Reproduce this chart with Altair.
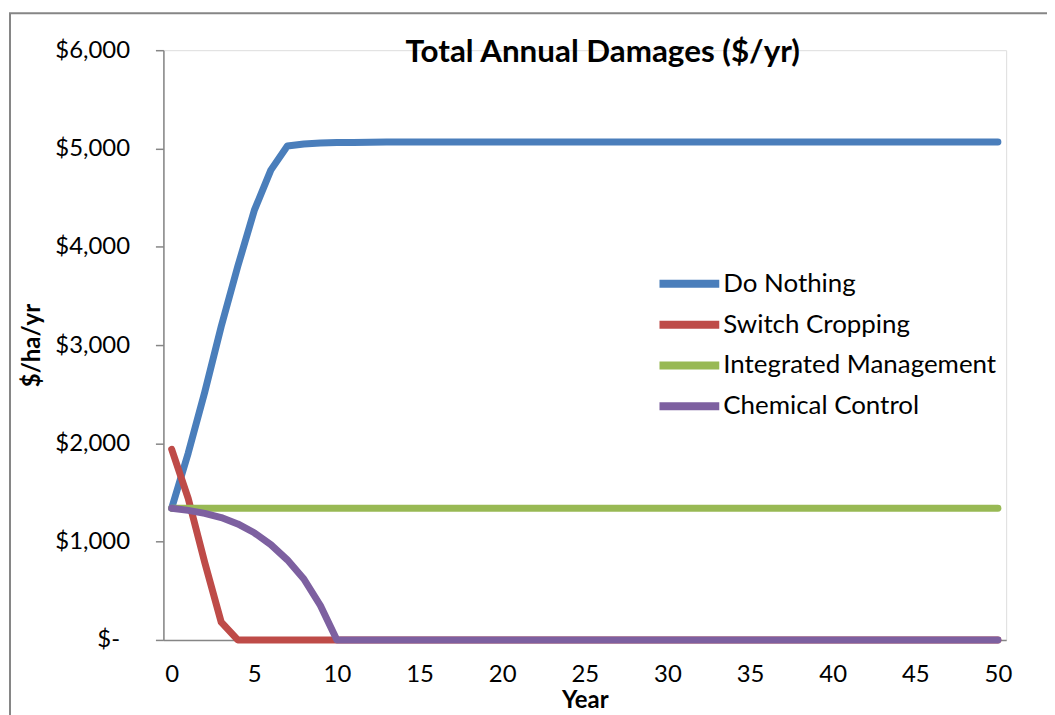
import altair as alt
import pandas as pd

chart_title = "Total Annual Damages ($/yr)"
x_title = "Year"
y_title = "$/ha/yr"

years = list(range(51))

do_nothing = [1340, 1900, 2520, 3190, 3800, 4370, 4780, 5025, 5045, 5055,
              5060, 5062, 5064, 5065, 5065, 5065, 5065, 5065, 5065, 5065,
              5065, 5065, 5065, 5065, 5065, 5065, 5065, 5065, 5065, 5065,
              5065, 5065, 5065, 5065, 5065, 5065, 5065, 5065, 5065, 5065,
              5065, 5065, 5065, 5065, 5065, 5065, 5065, 5065, 5065, 5065,
              5065]

switch_cropping = [1940, 1440, 790, 180, 0, 0, 0, 0, 0, 0,
                   0, 0, 0, 0, 0, 0, 0, 0, 0, 0,
                   0, 0, 0, 0, 0, 0, 0, 0, 0, 0,
                   0, 0, 0, 0, 0, 0, 0, 0, 0, 0,
                   0, 0, 0, 0, 0, 0, 0, 0, 0, 0,
                   0]

integrated_mgmt = [1340, 1340, 1340, 1340, 1340, 1340, 1340, 1340, 1340, 1340,
                   1340, 1340, 1340, 1340, 1340, 1340, 1340, 1340, 1340, 1340,
                   1340, 1340, 1340, 1340, 1340, 1340, 1340, 1340, 1340, 1340,
                   1340, 1340, 1340, 1340, 1340, 1340, 1340, 1340, 1340, 1340,
                   1340, 1340, 1340, 1340, 1340, 1340, 1340, 1340, 1340, 1340,
                   1340]

chemical_control = [1340, 1318, 1288, 1245, 1180, 1090, 970, 815, 620, 350,
                    0, 0, 0, 0, 0, 0, 0, 0, 0, 0,
                    0, 0, 0, 0, 0, 0, 0, 0, 0, 0,
                    0, 0, 0, 0, 0, 0, 0, 0, 0, 0,
                    0, 0, 0, 0, 0, 0, 0, 0, 0, 0,
                    0]

series_names = ["Do Nothing", "Switch Cropping", "Integrated Management", "Chemical Control"]
series_values = [do_nothing, switch_cropping, integrated_mgmt, chemical_control]
series_colors = ["#4A7EBB", "#BE4B48", "#98B954", "#7D60A0"]

x_ticks = [0, 5, 10, 15, 20, 25, 30, 35, 40, 45, 50]
y_ticks = [0, 1000, 2000, 3000, 4000, 5000, 6000]

rows = []
for name, vals in zip(series_names, series_values):
    for yr, v in zip(years, vals):
        rows.append({"Year": yr, "Value": v, "Series": name})
df = pd.DataFrame(rows)

FONT = "Lato"
AXIS_GRAY = "#868686"

x_enc = alt.X("Year:Q",
              scale=alt.Scale(domain=[-0.5, 50.5], nice=False, zero=False),
              axis=alt.Axis(values=x_ticks, title=x_title, grid=False, ticks=False,
                            domainColor=AXIS_GRAY, domainWidth=1.5,
                            labelFontSize=24, labelFont=FONT, labelColor="black",
                            labelPadding=23, labelFlush=False,
                            titleFont=FONT, titleFontSize=24, titleFontWeight="bold",
                            titleColor="black", titleBaseline="alphabetic", titleY=68))
y_enc = alt.Y("Value:Q",
              scale=alt.Scale(domain=[0, 6000], nice=False),
              axis=alt.Axis(values=y_ticks, title=y_title, grid=False,
                            labelExpr="datum.value == 0 ? '$-' : '$' + format(datum.value, ',')",
                            tickSize=8, tickColor=AXIS_GRAY, tickWidth=1.5,
                            domainColor=AXIS_GRAY, domainWidth=1.5,
                            labelFontSize=24, labelFont=FONT, labelColor="black",
                            labelPadding={"condition": {"test": "datum.value == 0", "value": 36},
                                          "value": 26},
                            labelFlush=False,
                            titleFont=FONT, titleFontSize=24, titleFontWeight="bold",
                            titleColor="black", titleAngle=-90, titleAlign="center",
                            titleBaseline="middle", titleX=-131, titleY=296))
color_enc = alt.Color("Series:N",
                      scale=alt.Scale(domain=series_names, range=series_colors),
                      legend=alt.Legend(title=None, orient="none", legendX=494, legendY=215,
                                        symbolType="stroke", symbolSize=3600,
                                        symbolStrokeWidth=8, labelFontSize=26,
                                        labelFont=FONT, labelColor="black",
                                        labelOffset=0, labelLimit=500,
                                        clipHeight=39, rowPadding=2))

layers = []
# outer chart border
border = alt.Chart(pd.DataFrame({"b": [0]})).mark_rect(
    fill=None, stroke=AXIS_GRAY, strokeWidth=2).encode(
    x=alt.value(-154), x2=alt.value(1000), y=alt.value(-37), y2=alt.value(720))
layers.append(border)

for name in series_names:
    layers.append(
        alt.Chart(df).transform_filter(alt.datum.Series == name).mark_line(
            strokeWidth=7, strokeCap="round", strokeJoin="round"
        ).encode(x=x_enc, y=y_enc, color=color_enc)
    )

title_mark = alt.Chart(pd.DataFrame({"t": [chart_title]})).mark_text(
    font=FONT, fontSize=31.5, fontWeight="bold", color="black",
    align="center", baseline="middle").encode(
    x=alt.value(441), y=alt.value(3), text="t:N")
layers.append(title_mark)

chart = alt.layer(*layers).properties(
    width=846, height=592,
    autosize=alt.AutoSizeParams(type="none"),
    padding={"left": 156, "top": 41, "right": 41, "bottom": 74},
).configure_view(stroke=None).configure(background="white")

chart.save("out.html", embed_options={"renderer": "svg", "actions": False})
